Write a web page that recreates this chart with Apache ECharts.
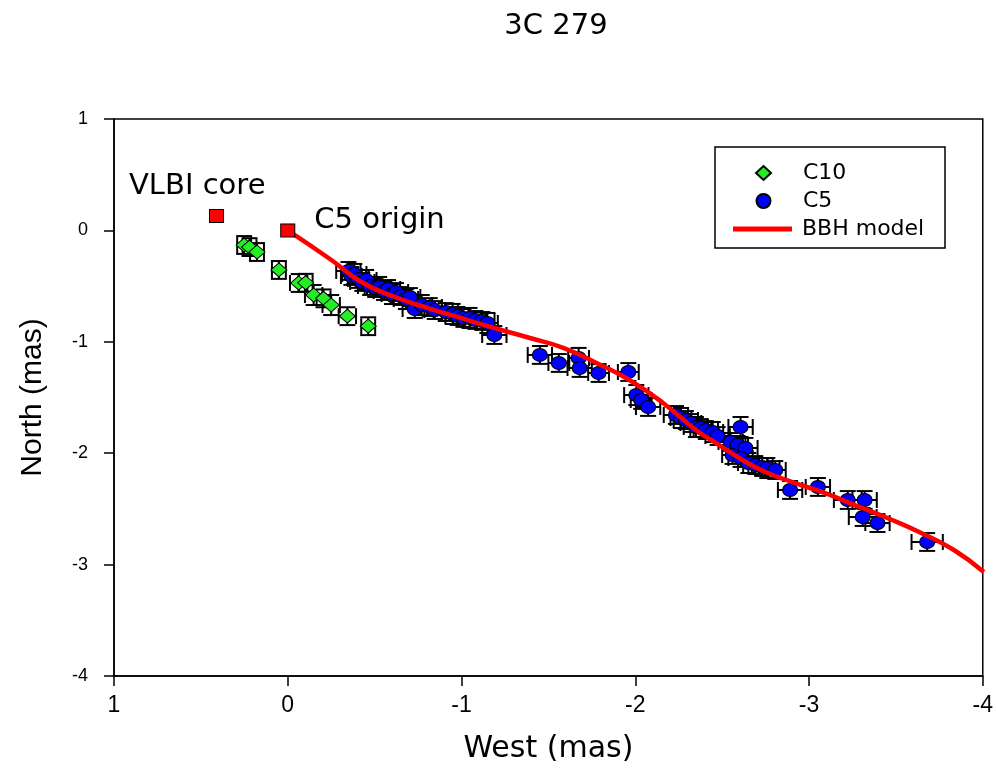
<!DOCTYPE html>
<html>
<head>
<meta charset="utf-8">
<script src="https://cdn.jsdelivr.net/npm/echarts@6/dist/echarts.min.js"></script>
<style>
  html, body { margin: 0; padding: 0; background: #fff; }
  #chart { width: 996px; height: 770px; }
</style>
</head>
<body>
<div id="chart"></div>
<script>
// C10 component positions (mas)
const c10X = [0.251, 0.22, 0.177, 0.051, -0.063, -0.103, -0.149, -0.206, -0.25, -0.343, -0.463]
const c10Y = [-0.131, -0.15, -0.194, -0.355, -0.472, -0.47, -0.58, -0.61, -0.67, -0.77, -0.86]
const c10XErr = [0.04, 0.04, 0.04, 0.04, 0.05, 0.04, 0.05, 0.04, 0.05, 0.05, 0.04]
const c10YErr = [0.08, 0.08, 0.08, 0.08, 0.08, 0.08, 0.09, 0.08, 0.09, 0.08, 0.08]

// C5 component positions (mas)
const c5X = [
  -0.349, -0.366, -0.383, -0.406, -0.429, -0.451, -0.474, -0.503, -0.526, -0.554,
  -0.577, -0.6, -0.623, -0.651, -0.68, -0.703, -0.731, -0.771, -0.817, -0.846,
  -0.909, -0.949, -0.977, -1.011, -1.046, -1.08, -1.12, -1.149, -1.189,
  -1.451, -1.56, -1.674, -1.68, -1.789, -1.96, -2.006, -2.034, -2.074,
  -2.234, -2.263, -2.291, -2.32, -2.349, -2.377, -2.406, -2.446, -2.474, -2.606,
  -2.549, -2.589, -2.634, -2.56, -2.606, -2.651, -2.691, -2.731, -2.76, -2.806,
  -2.891, -3.051, -3.223, -3.32, -3.309, -3.394, -3.68
]
const c5Y = [
  -0.364, -0.409, -0.391, -0.436, -0.463, -0.445, -0.499, -0.517, -0.508, -0.544,
  -0.526, -0.571, -0.553, -0.589, -0.616, -0.598, -0.706, -0.67, -0.688, -0.715,
  -0.733, -0.75, -0.768, -0.786, -0.786, -0.804, -0.813, -0.831, -0.939,
  -1.118, -1.19, -1.145, -1.235, -1.28, -1.271, -1.478, -1.522, -1.585,
  -1.657, -1.684, -1.702, -1.729, -1.765, -1.774, -1.792, -1.81, -1.846, -1.765,
  -1.899, -1.926, -1.953, -2.016, -2.043, -2.088, -2.106, -2.124, -2.133, -2.151,
  -2.33, -2.303, -2.42, -2.42, -2.573, -2.627, -2.797
]
const c5XErr = [
  0.07, 0.06, 0.07, 0.06, 0.07, 0.06, 0.07, 0.06, 0.07, 0.06,
  0.07, 0.06, 0.07, 0.06, 0.07, 0.06, 0.07, 0.06, 0.07, 0.06,
  0.07, 0.06, 0.07, 0.06, 0.07, 0.06, 0.07, 0.06, 0.07,
  0.07, 0.06, 0.06, 0.07, 0.06, 0.06, 0.07, 0.06, 0.07,
  0.07, 0.06, 0.07, 0.06, 0.07, 0.06, 0.07, 0.06, 0.07, 0.07,
  0.07, 0.06, 0.07, 0.06, 0.07, 0.06, 0.07, 0.06, 0.07, 0.06,
  0.07, 0.07, 0.08, 0.07, 0.08, 0.07, 0.09
]
const c5YErr = [
  0.08, 0.08, 0.09, 0.08, 0.08, 0.09, 0.08, 0.08, 0.09, 0.08,
  0.08, 0.09, 0.08, 0.08, 0.09, 0.08, 0.08, 0.09, 0.08, 0.08,
  0.08, 0.09, 0.08, 0.08, 0.09, 0.08, 0.08, 0.09, 0.08,
  0.08, 0.08, 0.09, 0.08, 0.08, 0.08, 0.09, 0.08, 0.08,
  0.08, 0.09, 0.08, 0.08, 0.09, 0.08, 0.08, 0.09, 0.08, 0.09,
  0.08, 0.08, 0.09, 0.08, 0.08, 0.09, 0.08, 0.08, 0.09, 0.08,
  0.08, 0.08, 0.08, 0.08, 0.08, 0.08, 0.08
]

// binary black hole model track
const bbhX = [0, -0.251, -0.423, -0.617, -0.806, -0.994, -1.189, -1.394, -1.589, -1.777, -1.966,
  -2.16, -2.349, -2.463, -2.617, -2.749, -2.92, -3.074, -3.263, -3.451, -3.646, -3.834, -4.006]
const bbhY = [0, -0.266, -0.463, -0.598, -0.697, -0.786, -0.876, -0.966, -1.056, -1.19, -1.343,
  -1.549, -1.792, -1.908, -2.061, -2.169, -2.268, -2.348, -2.465, -2.582, -2.716, -2.869, -3.066]

// reference positions
const refNames = ['VLBI core', 'C5 origin']
const refX = [0.41, 0]
const refY = [0.13, 0]

const xTicks = [1, 0, -1, -2, -3, -4]

const chart = echarts.init(document.getElementById('chart'))

const zip4 = (a, b, c, d) => a.map((v, i) => [v, b[i], c[i], d[i]])

function renderErr(params, api) {
  const x = api.value(0), y = api.value(1), ex = api.value(2), ey = api.value(3)
  const l = api.coord([x + ex, y]), r = api.coord([x - ex, y])
  const t = api.coord([x, y + ey]), b = api.coord([x, y - ey])
  const c = 8
  const st = { stroke: '#000', lineWidth: 2 }
  const ln = (x1, y1, x2, y2) => ({ type: 'line', shape: { x1, y1, x2, y2 }, style: st })
  return {
    type: 'group',
    children: [
      ln(l[0], l[1], r[0], r[1]),
      ln(l[0], l[1] - c, l[0], l[1] + c),
      ln(r[0], r[1] - c, r[0], r[1] + c),
      ln(t[0], t[1], b[0], b[1]),
      ln(t[0] - c, t[1], t[0] + c, t[1]),
      ln(b[0] - c, b[1], b[0] + c, b[1])
    ]
  }
}

const refLabelPos = [[-80, -22], [34, -3]]
const legendFont = { fontFamily: 'DejaVu Sans', fontSize: 22, color: '#000' }

const option = {
  animation: false,
  backgroundColor: '#fff',
  title: {
    text: '3C 279',
    left: 551,
    top: 7,
    textAlign: 'center',
    textStyle: { fontFamily: 'DejaVu Sans', fontSize: 29, fontWeight: 'normal', color: '#000' }
  },
  // legend frame
  graphic: [{
    type: 'rect',
    shape: { x: 715, y: 147, width: 230, height: 101 },
    style: { fill: '#fff', stroke: '#000', lineWidth: 1.5 },
    z: 5
  }],
  legend: [
    {
      orient: 'vertical',
      left: 755,
      top: 162,
      padding: 0,
      itemWidth: 15,
      itemHeight: 14,
      itemGap: 6,
      z: 6,
      data: [
        { name: 'C10', icon: 'diamond' },
        { name: 'C5', icon: 'circle' }
      ],
      textStyle: Object.assign({ padding: [0, 0, 0, 27] }, legendFont)
    },
    {
      orient: 'vertical',
      left: 733,
      top: 218,
      padding: 0,
      itemWidth: 59,
      itemHeight: 5,
      z: 6,
      data: [{ name: 'BBH model', icon: 'rect' }],
      textStyle: Object.assign({ padding: [0, 0, 0, 5] }, legendFont)
    }
  ],
  grid: {
    left: 114, right: 7, top: 119, bottom: 94,
    show: true, borderColor: '#000', borderWidth: 1.5
  },
  xAxis: {
    type: 'value',
    inverse: true,
    min: -4, max: 1, interval: 1,
    name: 'West (mas)',
    nameLocation: 'middle',
    nameGap: 58,
    nameTextStyle: { fontFamily: 'DejaVu Sans', fontSize: 30, color: '#000' },
    axisLine: { onZero: false, lineStyle: { color: '#000', width: 1.5 } },
    axisTick: { inside: false, length: 10, lineStyle: { color: '#000', width: 1.5 } },
    axisLabel: {
      margin: 18, color: '#000', fontSize: 23,
      fontFamily: '"Liberation Sans Narrow", "Liberation Sans"',
      showMinLabel: true, showMaxLabel: true,
      formatter: v => xTicks.includes(v) ? String(v) : ''
    },
    splitLine: { show: false }
  },
  yAxis: {
    type: 'value',
    min: -4, max: 1, interval: 1,
    name: 'North (mas)',
    nameLocation: 'middle',
    nameGap: 66,
    nameTextStyle: { fontFamily: 'Liberation Sans', fontSize: 30, color: '#000' },
    axisLine: { onZero: false, lineStyle: { color: '#000', width: 1.5 } },
    axisTick: { inside: false, length: 10, lineStyle: { color: '#000', width: 1.5 } },
    axisLabel: { margin: 26, color: '#000', fontSize: 18, fontFamily: 'Liberation Sans' },
    splitLine: { show: false }
  },
  series: [
    {
      type: 'custom',
      name: 'C10 err',
      renderItem: renderErr,
      encode: { x: 0, y: 1 },
      data: zip4(c10X, c10Y, c10XErr, c10YErr),
      z: 1
    },
    {
      type: 'custom',
      name: 'C5 err',
      renderItem: renderErr,
      encode: { x: 0, y: 1 },
      data: zip4(c5X, c5Y, c5XErr, c5YErr),
      z: 1
    },
    {
      type: 'scatter',
      name: 'C10',
      symbol: 'diamond',
      symbolSize: [16, 14],
      itemStyle: { color: '#22ee22', borderColor: '#000', borderWidth: 1, opacity: 1 },
      data: c10X.map((v, i) => [v, c10Y[i]]),
      z: 2
    },
    {
      type: 'scatter',
      name: 'C5',
      symbol: 'circle',
      symbolSize: [15, 13],
      itemStyle: { color: '#0000ff', borderColor: '#000', borderWidth: 1, opacity: 1 },
      data: c5X.map((v, i) => [v, c5Y[i]]),
      z: 2
    },
    {
      type: 'line',
      name: 'BBH model',
      smooth: 0.5,
      symbol: 'none',
      lineStyle: { color: '#ff0000', width: 4.5 },
      itemStyle: { color: '#ff0000' },
      data: bbhX.map((v, i) => [v, bbhY[i]]),
      z: 3
    },
    {
      type: 'scatter',
      name: 'ref',
      symbol: 'rect',
      symbolSize: [14, 13],
      itemStyle: { color: '#ff0000', borderColor: '#000', borderWidth: 1, opacity: 1 },
      data: refNames.map((n, i) => ({
        name: n,
        value: [refX[i], refY[i]],
        label: {
          show: true,
          formatter: '{b}',
          position: refLabelPos[i],
          verticalAlign: 'middle',
          fontFamily: 'DejaVu Sans',
          fontSize: 29,
          color: '#000',
          opacity: 1
        }
      })),
      z: 4
    }
  ]
}

chart.setOption(option)
</script>
</body>
</html>
